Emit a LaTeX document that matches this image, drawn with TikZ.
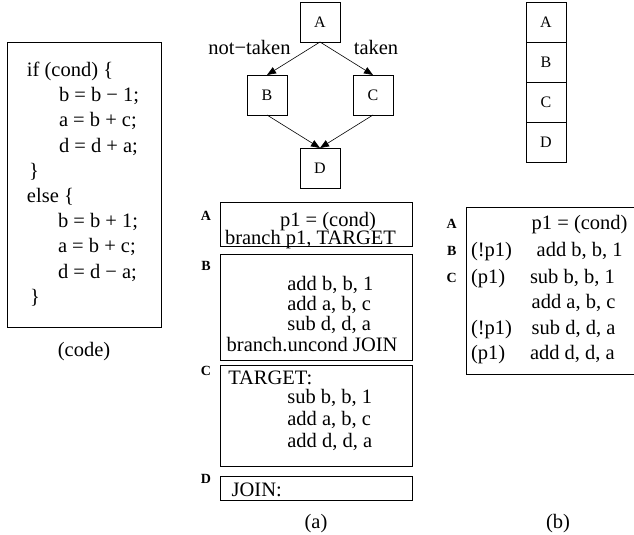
\documentclass[tikz,border=0pt]{standalone}
\usepackage{fontspec}
\setmainfont{Liberation Serif}
\usetikzlibrary{arrows.meta}
\begin{document}
\begin{tikzpicture}[x=1pt,y=-1pt,
  every node/.style={inner sep=0pt, outer sep=0pt},
  gbox/.style={draw, line width=0.8pt, minimum width=40pt, minimum height=40pt, font=\fontsize{16}{16}\selectfont},
  frame/.style={draw, line width=0.8pt, minimum width=192pt},
  txt/.style={anchor=base west, font=\fontsize{20.5}{24}\selectfont},
  ctxt/.style={anchor=base, font=\fontsize{20.5}{24}\selectfont},
  lbl/.style={anchor=base, font=\fontsize{14}{14}\selectfont\bfseries},
  arr/.style={-{Triangle[length=9pt,width=7pt]}, line width=0.6pt},
]
\useasboundingbox (0,0) rectangle (634,535);

% ---- code box
\node[frame, minimum width=154pt, minimum height=285pt] (code) at (84,184.5) {};
\node[txt] (c1) at (27,76) {if (cond) \{};
\node[txt] (c2) at (59,101) {b = b − 1;};
\node[txt] (c3) at (59,126) {a = b + c;};
\node[txt] (c4) at (59,152) {d = d + a;};
\node[txt] (c5) at (29,177) {\}};
\node[txt] (c6) at (27,202) {else \{};
\node[txt] (c7) at (58,227) {b = b + 1;};
\node[txt] (c8) at (58,252) {a = b + c;};
\node[txt] (c9) at (58,278) {d = d − a;};
\node[txt] (c10) at (30,303) {\}};
\node[ctxt] (codecap) at (84,356) {(code)};

% ---- control flow graph
\node[gbox] (A) at (320,22) {A};
\node[gbox] (B) at (267,95) {B};
\node[gbox] (C) at (373,95) {C};
\node[gbox] (D) at (320,168) {D};
\node[ctxt] (nt) at (249.5,55) {not−taken};
\node[ctxt] (tk) at (376,55) {taken};
\draw[arr] (A.south) -- (B.north);
\draw[arr] (A.south) -- (C.north);
\draw[arr] (B.south) -- (D.north);
\draw[arr] (C.south) -- (D.north);

% ---- stacked column
\node[gbox] (sA) at (546,22) {A};
\node[gbox] (sB) at (546,62) {B};
\node[gbox] (sC) at (546,102) {C};
\node[gbox] (sD) at (546,142) {D};

% ---- listing (a)
\node[frame, minimum height=44pt] (la) at (316.7,224) {};
\node[frame, minimum height=106pt] (lb) at (316.7,307) {};
\node[frame, minimum height=101pt] (lc) at (316.7,416) {};
\node[frame, minimum height=24pt] (ld) at (316.7,488) {};
\node[lbl] (laA) at (206,220) {A};
\node[lbl] (laB) at (206,270) {B};
\node[lbl] (laC) at (206,375) {C};
\node[lbl] (laD) at (206,483) {D};
\node[ctxt] (a1) at (328,226) {p1 = (cond)};
\node[txt] (a2) at (225,244) {branch p1, TARGET};
\node[txt] (b1) at (287.3,290) {add b, b, 1};
\node[txt] (b2) at (287.3,310) {add a, b, c};
\node[txt] (b3) at (287.3,330) {sub d, d, a};
\node[txt] (b4) at (226.7,351) {branch.uncond JOIN};
\node[txt] (t1) at (228.3,384) {TARGET:};
\node[txt] (t2) at (287.3,403.5) {sub b, b, 1};
\node[txt] (t3) at (287.3,425) {add a, b, c};
\node[txt] (t4) at (287.3,447) {add d, d, a};
\node[txt] (j1) at (231.7,496) {JOIN:};
\node[ctxt] (capa) at (316,528) {(a)};

% ---- listing (b)
\draw[line width=0.8pt] (634,207.7) -- (466,207.7) -- (466,374) -- (634,374);
\node[lbl] (pA) at (451.7,228) {A};
\node[lbl] (pB) at (451.7,255) {B};
\node[lbl] (pC) at (451.7,282) {C};
\node[txt] (q1) at (531.7,229) {p1 = (cond)};
\node[txt] (r2) at (471,256) {(!p1)};
\node[txt] (q2) at (536.7,256) {add b, b, 1};
\node[txt] (r3) at (471,283) {(p1)};
\node[txt] (q3) at (530,283) {sub b, b, 1};
\node[txt] (q4) at (531.7,308) {add a, b, c};
\node[txt] (r5) at (471,334) {(!p1)};
\node[txt] (q5) at (531.7,334) {sub d, d, a};
\node[txt] (r6) at (471,359) {(p1)};
\node[txt] (q6) at (530,359) {add d, d, a};
\node[ctxt] (capb) at (558,528) {(b)};
\end{tikzpicture}
\end{document}
